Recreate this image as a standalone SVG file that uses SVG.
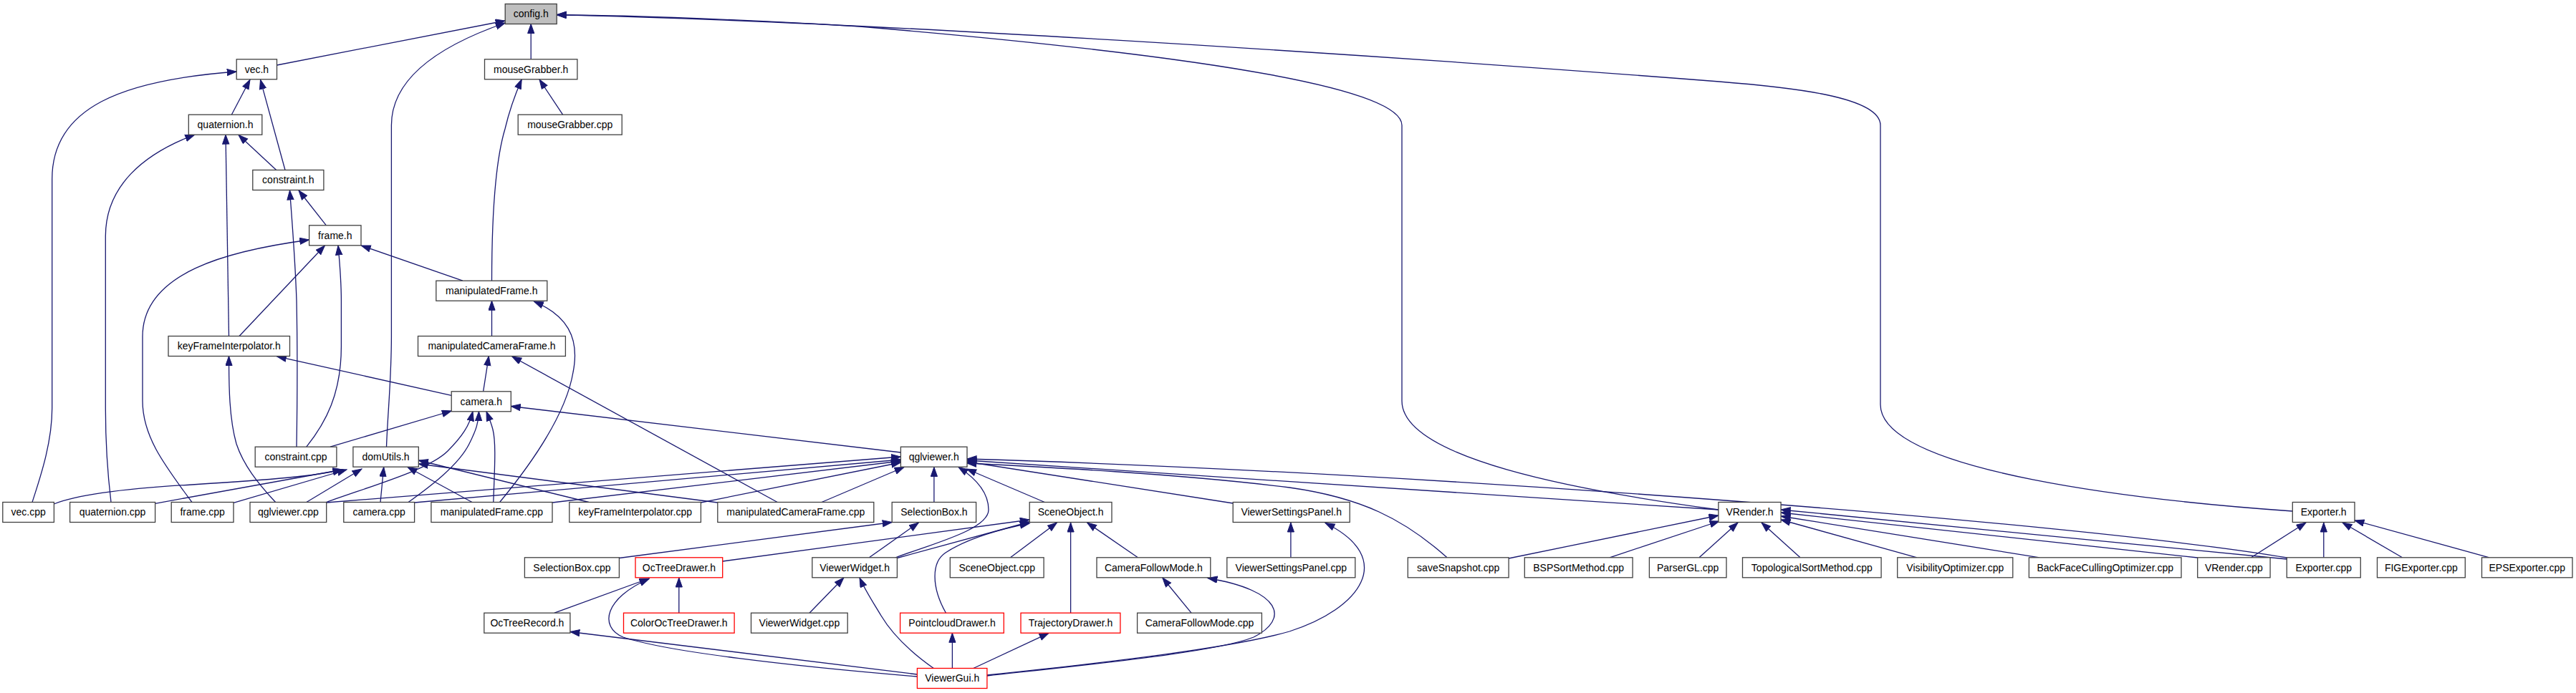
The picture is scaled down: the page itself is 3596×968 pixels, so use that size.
<svg xmlns="http://www.w3.org/2000/svg" width="3596" height="968" viewBox="0 0 3596 968">
<style>
.n rect{fill:#fff;stroke:#404040;stroke-width:1.3}
.n.r rect{stroke:#ff0000}
.n.g rect{fill:#bfbfbf}
.n text{font-family:"Liberation Sans",Arial,sans-serif;font-size:14px;fill:#000;text-anchor:middle}
#edges path{fill:none;stroke:#191970;stroke-width:1.3;marker-end:url(#ah)}
</style>
<defs>
<marker id="ah" markerUnits="userSpaceOnUse" markerWidth="16" markerHeight="12" refX="13.5" refY="5" orient="auto">
<path d="M0.5,0.4 L13.5,5 L0.5,9.6 z" fill="#191970" stroke="#191970" stroke-width="1"/>
</marker>
</defs>
<rect width="3596" height="968" fill="#fff"/>
<g id="edges">
<path d="M386.5,91 L705,29"/>
<path d="M539.5,624.2 C541,580 546.4,530 546.4,470 L546.4,175 C546.4,110 610,65 705.2,32"/>
<path d="M741.2,82.8 L741.2,33.5"/>
<path d="M2398.9,712 C2200,685 1957,640 1957,560 L1957,175 C1957,120 1650,75 1200,37 C1000,25 850,21 777.2,21"/>
<path d="M3200.3,714 C3000,700 2625,660 2625,565 L2625,175 C2625,135 2500,122 2400,114 C1900,75 1200,30 777.2,20.5"/>
<path d="M45,701.5 C55,670 72.7,620 72.7,570 L72.7,250 C72.7,150 170,112 330.2,100"/>
<path d="M323.3,160.2 L349,111.3"/>
<path d="M398,237.5 L363.5,111.3"/>
<path d="M155,701.5 C150,660 147.3,620 147.3,570 L147.3,330 C147.3,260 200,215 271.7,188.2"/>
<path d="M319.5,469.5 L315,188.2"/>
<path d="M385.7,237.5 L333,188.5"/>
<path d="M455.4,314.8 L417,266"/>
<path d="M414,624.2 C415,560 415,470 414,420 C412,360 407,300 404.5,266"/>
<path d="M334,469.5 L453.4,343"/>
<path d="M267.9,701.5 C230,650 199,610 199,560 L199,470 C199,380 320,350 431.6,335"/>
<path d="M427.8,624.2 C455,590 476.4,550 476.4,484 L476.4,420 C476.4,390 474,365 472,343"/>
<path d="M645.9,392.2 L504.3,343"/>
<path d="M785.6,160.2 L753,111"/>
<path d="M686.5,392.2 C686.5,320 690,230 705,180 C712,150 720,130 728.2,111"/>
<path d="M686.5,469.5 L686.5,420.2"/>
<path d="M697.6,701.5 C740,650 790,580 800,520 C810,470 790,440 745.4,421"/>
<path d="M674.6,546.8 L682.3,497.5"/>
<path d="M1085.2,701.5 L714.8,498"/>
<path d="M630.2,552.3 L386.5,497.8"/>
<path d="M384.6,701.5 C360,675 340,650 330,620 C320,585 319.5,540 319.5,497.5"/>
<path d="M461,624.2 L630.2,574"/>
<path d="M455.4,701.5 C530,675 600,655 625,630 C645,610 655,595 660,574.8"/>
<path d="M570,701.5 C600,680 640,650 655,620 C665,600 668,590 668.5,574.8"/>
<path d="M688.8,701.5 C690,660 693,620 688,600 C685,588 681,580 679,574.8"/>
<path d="M1257.4,632 L713.3,567.5"/>
<path d="M75.4,704 C110,690 180,682 268,677 C380,670 440,665 478,656"/>
<path d="M216.6,703.3 L478,656"/>
<path d="M326,702.3 L484,656"/>
<path d="M427.8,701.5 L505,655"/>
<path d="M531,701.5 L535.7,652.5"/>
<path d="M659,701.5 L569,652.5"/>
<path d="M822,701.5 L584.3,643"/>
<path d="M1001.8,702 L584.3,648"/>
<path d="M455.7,702 L1257.4,638"/>
<path d="M578.6,702 L1257.4,642"/>
<path d="M771,702 L1257.4,644"/>
<path d="M978.4,702 L1257.4,646"/>
<path d="M1147,701.5 L1262,652.5"/>
<path d="M1303.9,701.5 L1303.9,652.5"/>
<path d="M1249.7,779 C1300,760 1380,740 1380,712 C1380,690 1365,670 1338,652.5"/>
<path d="M1458.3,701.5 L1349.5,655"/>
<path d="M1721.2,703 L1350,645"/>
<path d="M2020,778.8 C1960,725 1900,695 1800,681 C1650,662 1450,652 1350,647"/>
<path d="M2398.9,712 L1350,643"/>
<path d="M3192.3,779 C2900,730 2000,660 1350,641"/>
<path d="M1801.9,778.8 L1801.9,730"/>
<path d="M1377.9,943 C1550,925 1720,905 1800,882 C1900,850 1950,780 1850,730.5"/>
<path d="M1377.9,944 C1550,925 1700,910 1750,890 C1800,865 1790,825 1686,807.5"/>
<path d="M1663,856.2 L1622.8,807"/>
<path d="M1588.4,778.8 L1517.6,730"/>
<path d="M1494.6,856.2 L1494.6,730"/>
<path d="M1410.5,778.8 L1475.5,730"/>
<path d="M1320.5,856.2 C1300,820 1300,785 1320,772 C1350,752 1400,738 1437.2,731"/>
<path d="M1252.4,779.5 L1437.2,729"/>
<path d="M1008.7,784 L1437.2,726"/>
<path d="M1213.4,778.8 L1282.3,730"/>
<path d="M864.4,779.5 L1245.2,729.5"/>
<path d="M1130,856.2 L1177.8,807"/>
<path d="M1303.3,933.5 C1270,910 1245,885 1230,860 C1218,840 1208,825 1200,807"/>
<path d="M1280.4,942 L795.9,882.5"/>
<path d="M1280.4,945 C1100,930 930,910 870,890 C835,875 845,835 906,808.5"/>
<path d="M774,856.2 L906,808"/>
<path d="M947.8,856.2 L947.8,807"/>
<path d="M1329.4,933.5 L1329.4,884.3"/>
<path d="M1358.8,933.5 L1464,884.3"/>
<path d="M2106,780 L2398.9,720"/>
<path d="M2247,778.8 L2400,728"/>
<path d="M2372,778.8 L2426,730"/>
<path d="M2513,778.8 L2459,730"/>
<path d="M2676,778.8 L2486.1,726"/>
<path d="M2847,778.8 L2486.1,721"/>
<path d="M3067.7,779 L2486.1,716"/>
<path d="M3192.3,781 L2486.1,712"/>
<path d="M3142.5,778.8 L3219,730"/>
<path d="M3243.8,778.8 L3243.8,730"/>
<path d="M3353.5,778.8 L3270,730"/>
<path d="M3475,778.8 L3287,727"/>
</g>
<g id="n_config" class="n g"><rect x="705.2" y="5.5" width="72" height="28"/><text x="741.2" y="24.3">config.h</text></g>
<g id="n_vech" class="n"><rect x="330.2" y="82.8" width="56.3" height="28"/><text x="358.4" y="101.6">vec.h</text></g>
<g id="n_mgh" class="n"><rect x="676.5" y="82.8" width="129.4" height="28"/><text x="741.2" y="101.6">mouseGrabber.h</text></g>
<g id="n_quath" class="n"><rect x="263.3" y="160.2" width="102.5" height="28"/><text x="314.5" y="179">quaternion.h</text></g>
<g id="n_mgcpp" class="n"><rect x="723.2" y="160.2" width="145" height="28"/><text x="795.7" y="179">mouseGrabber.cpp</text></g>
<g id="n_consh" class="n"><rect x="352.8" y="237.5" width="99.1" height="28"/><text x="402.3" y="256.3">constraint.h</text></g>
<g id="n_frameh" class="n"><rect x="431.6" y="314.8" width="72.4" height="28"/><text x="467.8" y="333.6">frame.h</text></g>
<g id="n_mfh" class="n"><rect x="608.8" y="392.2" width="155" height="28"/><text x="686.3" y="411">manipulatedFrame.h</text></g>
<g id="n_kfih" class="n"><rect x="235" y="469.5" width="169.5" height="28"/><text x="319.8" y="488.3">keyFrameInterpolator.h</text></g>
<g id="n_mcfh" class="n"><rect x="583.5" y="469.5" width="205.9" height="28"/><text x="686.5" y="488.3">manipulatedCameraFrame.h</text></g>
<g id="n_camh" class="n"><rect x="630.2" y="546.8" width="83.1" height="28"/><text x="671.8" y="565.6">camera.h</text></g>
<g id="n_conscpp" class="n"><rect x="356.2" y="624.2" width="113.7" height="28"/><text x="413" y="643">constraint.cpp</text></g>
<g id="n_domh" class="n"><rect x="492.9" y="624.2" width="91.4" height="28"/><text x="538.6" y="643">domUtils.h</text></g>
<g id="n_qglh" class="n"><rect x="1257.4" y="624.2" width="92.6" height="28"/><text x="1303.7" y="643">qglviewer.h</text></g>
<g id="n_veccpp" class="n"><rect x="3.8" y="701.5" width="71.6" height="28"/><text x="39.6" y="720.3">vec.cpp</text></g>
<g id="n_quatcpp" class="n"><rect x="97.6" y="701.5" width="119" height="28"/><text x="157.1" y="720.3">quaternion.cpp</text></g>
<g id="n_framecpp" class="n"><rect x="239.2" y="701.5" width="86.8" height="28"/><text x="282.6" y="720.3">frame.cpp</text></g>
<g id="n_qglcpp" class="n"><rect x="349" y="701.5" width="106.7" height="28"/><text x="402.3" y="720.3">qglviewer.cpp</text></g>
<g id="n_camcpp" class="n"><rect x="479.8" y="701.5" width="98.8" height="28"/><text x="529.2" y="720.3">camera.cpp</text></g>
<g id="n_mfcpp" class="n"><rect x="601.9" y="701.5" width="169.1" height="28"/><text x="686.4" y="720.3">manipulatedFrame.cpp</text></g>
<g id="n_kficpp" class="n"><rect x="794.8" y="701.5" width="183.6" height="28"/><text x="886.6" y="720.3">keyFrameInterpolator.cpp</text></g>
<g id="n_mcfcpp" class="n"><rect x="1001.8" y="701.5" width="218" height="28"/><text x="1110.8" y="720.3">manipulatedCameraFrame.cpp</text></g>
<g id="n_selh" class="n"><rect x="1245.2" y="701.5" width="117.4" height="28"/><text x="1303.9" y="720.3">SelectionBox.h</text></g>
<g id="n_sceneh" class="n"><rect x="1437.2" y="701.5" width="114.8" height="28"/><text x="1494.6" y="720.3">SceneObject.h</text></g>
<g id="n_vsph" class="n"><rect x="1721.2" y="701.5" width="163" height="28"/><text x="1802.7" y="720.3">ViewerSettingsPanel.h</text></g>
<g id="n_vrh" class="n"><rect x="2398.9" y="701.5" width="87.2" height="28"/><text x="2442.5" y="720.3">VRender.h</text></g>
<g id="n_exph" class="n"><rect x="3200.3" y="701.5" width="86.7" height="28"/><text x="3243.7" y="720.3">Exporter.h</text></g>
<g id="n_selcpp" class="n"><rect x="732.4" y="778.8" width="132" height="28"/><text x="798.4" y="797.6">SelectionBox.cpp</text></g>
<g id="n_octdh" class="n r"><rect x="887" y="778.8" width="121.7" height="28"/><text x="947.9" y="797.6">OcTreeDrawer.h</text></g>
<g id="n_vwh" class="n"><rect x="1133.8" y="778.8" width="118.6" height="28"/><text x="1193.1" y="797.6">ViewerWidget.h</text></g>
<g id="n_scenecpp" class="n"><rect x="1326.3" y="778.8" width="130.8" height="28"/><text x="1391.7" y="797.6">SceneObject.cpp</text></g>
<g id="n_cfmh" class="n"><rect x="1531" y="778.8" width="158.8" height="28"/><text x="1610.4" y="797.6">CameraFollowMode.h</text></g>
<g id="n_vspcpp" class="n"><rect x="1712.8" y="778.8" width="179" height="28"/><text x="1802.3" y="797.6">ViewerSettingsPanel.cpp</text></g>
<g id="n_snap" class="n"><rect x="1965.3" y="778.8" width="140.8" height="28"/><text x="2035.7" y="797.6">saveSnapshot.cpp</text></g>
<g id="n_bsp" class="n"><rect x="2128.3" y="778.8" width="150.8" height="28"/><text x="2203.7" y="797.6">BSPSortMethod.cpp</text></g>
<g id="n_parser" class="n"><rect x="2302.4" y="778.8" width="107.6" height="28"/><text x="2356.2" y="797.6">ParserGL.cpp</text></g>
<g id="n_topo" class="n"><rect x="2432.5" y="778.8" width="193.6" height="28"/><text x="2529.3" y="797.6">TopologicalSortMethod.cpp</text></g>
<g id="n_vis" class="n"><rect x="2648.7" y="778.8" width="161.1" height="28"/><text x="2729.3" y="797.6">VisibilityOptimizer.cpp</text></g>
<g id="n_bfc" class="n"><rect x="2832.4" y="778.8" width="212.6" height="28"/><text x="2938.7" y="797.6">BackFaceCullingOptimizer.cpp</text></g>
<g id="n_vrcpp" class="n"><rect x="3067.7" y="778.8" width="101.4" height="28"/><text x="3118.4" y="797.6">VRender.cpp</text></g>
<g id="n_expcpp" class="n"><rect x="3192.3" y="778.8" width="103" height="28"/><text x="3243.8" y="797.6">Exporter.cpp</text></g>
<g id="n_fig" class="n"><rect x="3318.5" y="778.8" width="122.8" height="28"/><text x="3379.9" y="797.6">FIGExporter.cpp</text></g>
<g id="n_eps" class="n"><rect x="3464.5" y="778.8" width="126.5" height="28"/><text x="3527.8" y="797.6">EPSExporter.cpp</text></g>
<g id="n_octrec" class="n"><rect x="675.8" y="856.2" width="120.1" height="28"/><text x="735.9" y="875">OcTreeRecord.h</text></g>
<g id="n_coctd" class="n r"><rect x="870.5" y="856.2" width="154.6" height="28"/><text x="947.8" y="875">ColorOcTreeDrawer.h</text></g>
<g id="n_vwcpp" class="n"><rect x="1048.5" y="856.2" width="134.7" height="28"/><text x="1115.9" y="875">ViewerWidget.cpp</text></g>
<g id="n_pcd" class="n r"><rect x="1256.6" y="856.2" width="144.7" height="28"/><text x="1329" y="875">PointcloudDrawer.h</text></g>
<g id="n_traj" class="n r"><rect x="1425" y="856.2" width="138.9" height="28"/><text x="1494.5" y="875">TrajectoryDrawer.h</text></g>
<g id="n_cfmcpp" class="n"><rect x="1587.6" y="856.2" width="173.8" height="28"/><text x="1674.5" y="875">CameraFollowMode.cpp</text></g>
<g id="n_gui" class="n r"><rect x="1280.4" y="933.5" width="97.5" height="28"/><text x="1329.2" y="952.3">ViewerGui.h</text></g>
</svg>
